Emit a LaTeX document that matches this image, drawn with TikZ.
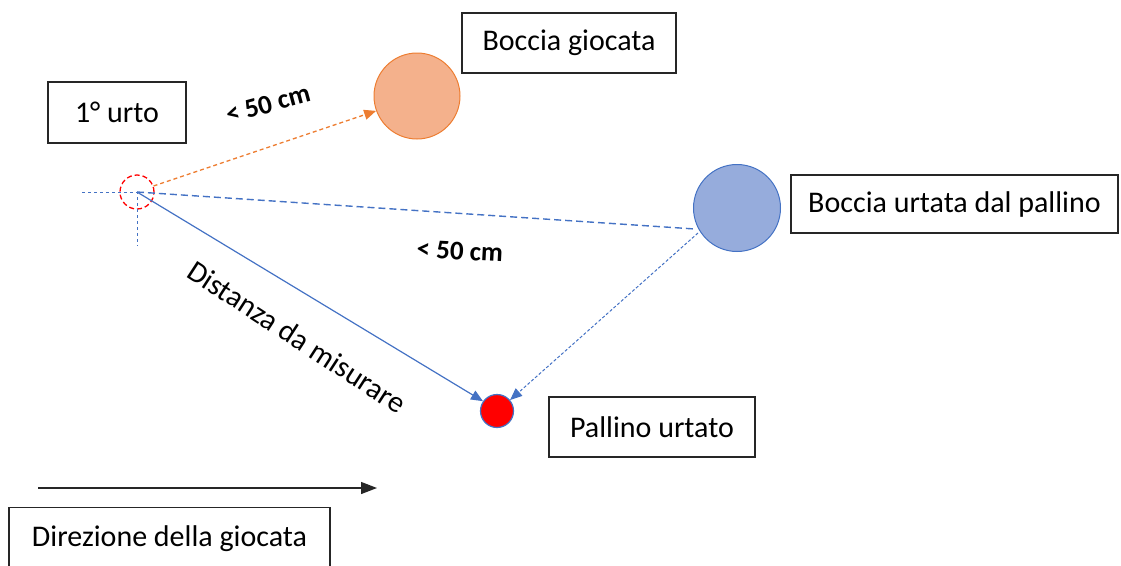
\documentclass[tikz,border=0pt]{standalone}
\usepackage{fontspec}
\setmainfont{Carlito}
\usetikzlibrary{arrows.meta}
\definecolor{oline}{RGB}{237,125,49}
\definecolor{ofill}{RGB}{244,177,140}
\definecolor{bline}{RGB}{68,114,196}
\definecolor{bfill}{RGB}{150,172,220}
\tikzset{
  lbox/.style={draw=black!85, line width=1.3pt, fill=white, font=\fontsize{30}{34}\selectfont, inner sep=0pt},
  lab/.style={font=\bfseries\fontsize{27}{31}\selectfont, inner sep=0pt},
  tipb/.style={-{Triangle[length=12pt,width=10pt]}},
}
\begin{document}
\begin{tikzpicture}[x=1pt,y=-1pt]
\useasboundingbox (0,0) rectangle (1121,565);
% boxes
\node[lbox, minimum width=138pt, minimum height=61pt] (urto) at (117,112.5) {1° urto};
\node[lbox, minimum width=214pt, minimum height=60pt] (giocata) at (569,43) {Boccia giocata};
\node[lbox, minimum width=327pt, minimum height=58pt] (urtata) at (954.5,204) {Boccia urtata dal pallino};
\node[lbox, minimum width=206pt, minimum height=60pt] (pallinob) at (652,427) {Pallino urtato};
\node[lbox, minimum width=321pt, minimum height=62pt, anchor=north] (dir) at (169.5,507) {\raisebox{-4pt}{Direzione della giocata}};
% balls
\node[circle, draw=oline, line width=1pt, fill=ofill, minimum size=86pt, inner sep=0pt] (bg) at (417,96) {};
\node[circle, draw=bline, line width=1pt, fill=bfill, minimum size=87pt, inner sep=0pt] (bu) at (737,208) {};
\node[circle, draw=bline, line width=1.2pt, fill=red, minimum size=33pt, inner sep=0pt] (pal) at (497,411) {};
% first impact
\coordinate (c) at (137,192);
\node[circle, draw=red, dash pattern=on 5pt off 3pt, line width=1.3pt, minimum size=34pt, inner sep=0pt] (imp) at (c) {};
\coordinate (hl) at (82,192);
\coordinate (vl) at (137,246);
\draw[bline, line width=1pt, dash pattern=on 3pt off 3pt] (hl) -- (c) -- (vl);
% lines
\draw[oline, line width=1.3pt, dash pattern=on 4pt off 3pt, tipb] (imp.20) -- (bg.200);
\coordinate (bul) at (695,229);
\draw[bline, line width=1.4pt, dash pattern=on 7pt off 4pt] (c) -- (bul);
\coordinate (bus) at (698,233);
\draw[bline, line width=1pt, dash pattern=on 3pt off 2pt, tipb] (bus) -- (pal.40);
\draw[bline, line width=1.2pt, tipb] (c) -- (pal.145);
% labels
\node[lab, rotate=15] (l1) at (268,104) {< 50 cm};
\node[lab, rotate=-3] (l2) at (460,251) {< 50 cm};
\node[font=\fontsize{30}{34}\selectfont, rotate=-33, inner sep=0pt] (dist) at (297,337) {Distanza da misurare};
% direction arrow
\coordinate (a0) at (38,488);
\coordinate (a1) at (377,488);
\draw[black!85, line width=1.3pt, -{Triangle[length=16pt,width=12pt]}] (a0) -- (a1);
\end{tikzpicture}
\end{document}
